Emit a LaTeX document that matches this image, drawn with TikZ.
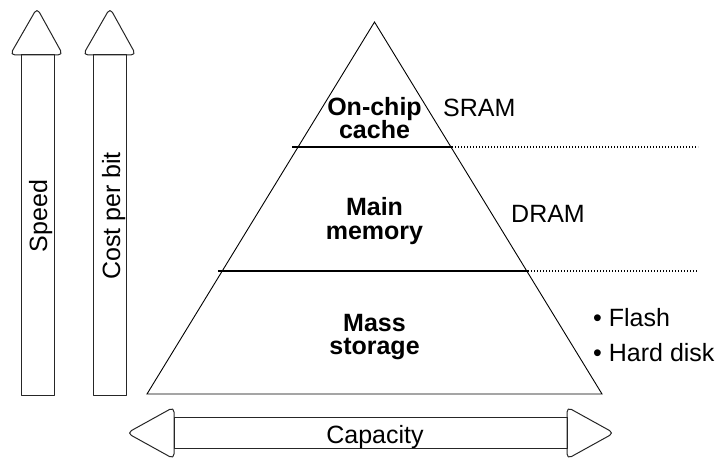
\documentclass[tikz,border=0pt]{standalone}
\usepackage{fontspec}
\setmainfont{Liberation Sans}
\begin{document}
\begin{tikzpicture}[x=1pt,y=-1pt,
  outline/.style={draw=black!85, line width=1pt, line join=round},
  headshape/.style={outline, rounded corners=5pt},
  edge/.style={line width=0.9pt},
  level/.style={line width=1.5pt},
  guide/.style={line width=1.3pt, dash pattern=on 1.3pt off 1.7pt},
  lbl/.style={inner sep=0pt, font=\fontsize{25}{24}\selectfont},
  tier/.style={inner sep=0pt, align=center, font=\fontsize{25}{23.5}\selectfont\bfseries}]
\useasboundingbox (0,0) rectangle (722,460);

% vertical arrows: speed and cost per bit
\draw[outline] (21,55) rectangle (54,395);
\draw[headshape] (10,55) -- (37,8) -- (63,55) -- cycle;
\node[lbl, rotate=90, anchor=base] (speed) at (47,216) {Speed};

\draw[outline] (93,55) rectangle (126,395);
\draw[headshape] (83,55) -- (110,8) -- (136,55) -- cycle;
\node[lbl, rotate=90, anchor=base] (cost) at (120,216) {Cost per bit};

% horizontal double arrow: capacity
\draw[outline] (174,417) rectangle (567,448);
\draw[headshape] (174,407) -- (127,433) -- (174,459) -- cycle;
\draw[headshape] (567,407) -- (614,433) -- (567,459) -- cycle;
\node[lbl, anchor=base] (capacity) at (375,443) {Capacity};

% the pyramid
\coordinate (apex) at (374.5,22);
\coordinate (bl) at (147,394);
\coordinate (br) at (602,394);
\draw[edge] (apex) -- (bl) -- (br) -- cycle;

% level boundaries with dotted guides
\coordinate (l1a) at (292,147);
\coordinate (l1b) at (452,147);
\coordinate (l1c) at (698,147);
\coordinate (l2a) at (218,271);
\coordinate (l2b) at (528,271);
\coordinate (l2c) at (698,271);
\draw[level] (l1a) -- (l1b);
\draw[guide] (l1b) -- (l1c);
\draw[level] (l2a) -- (l2b);
\draw[guide] (l2b) -- (l2c);

% tier names
\node[tier] (cache) at (374.5,118) {On-chip\\cache};
\node[tier] (main) at (374.5,221) {Main\\memory};
\node[tier] (mass) at (374.5,337) {Mass\\storage};

% technologies
\node[lbl, anchor=base west] (sram) at (443,116) {SRAM};
\node[lbl, anchor=base west] (dram) at (511,222) {DRAM};
\node[lbl, anchor=base west] (flash) at (593,326) {• Flash};
\node[lbl, anchor=base west] (disk) at (593,361) {• Hard disk};
\end{tikzpicture}
\end{document}
